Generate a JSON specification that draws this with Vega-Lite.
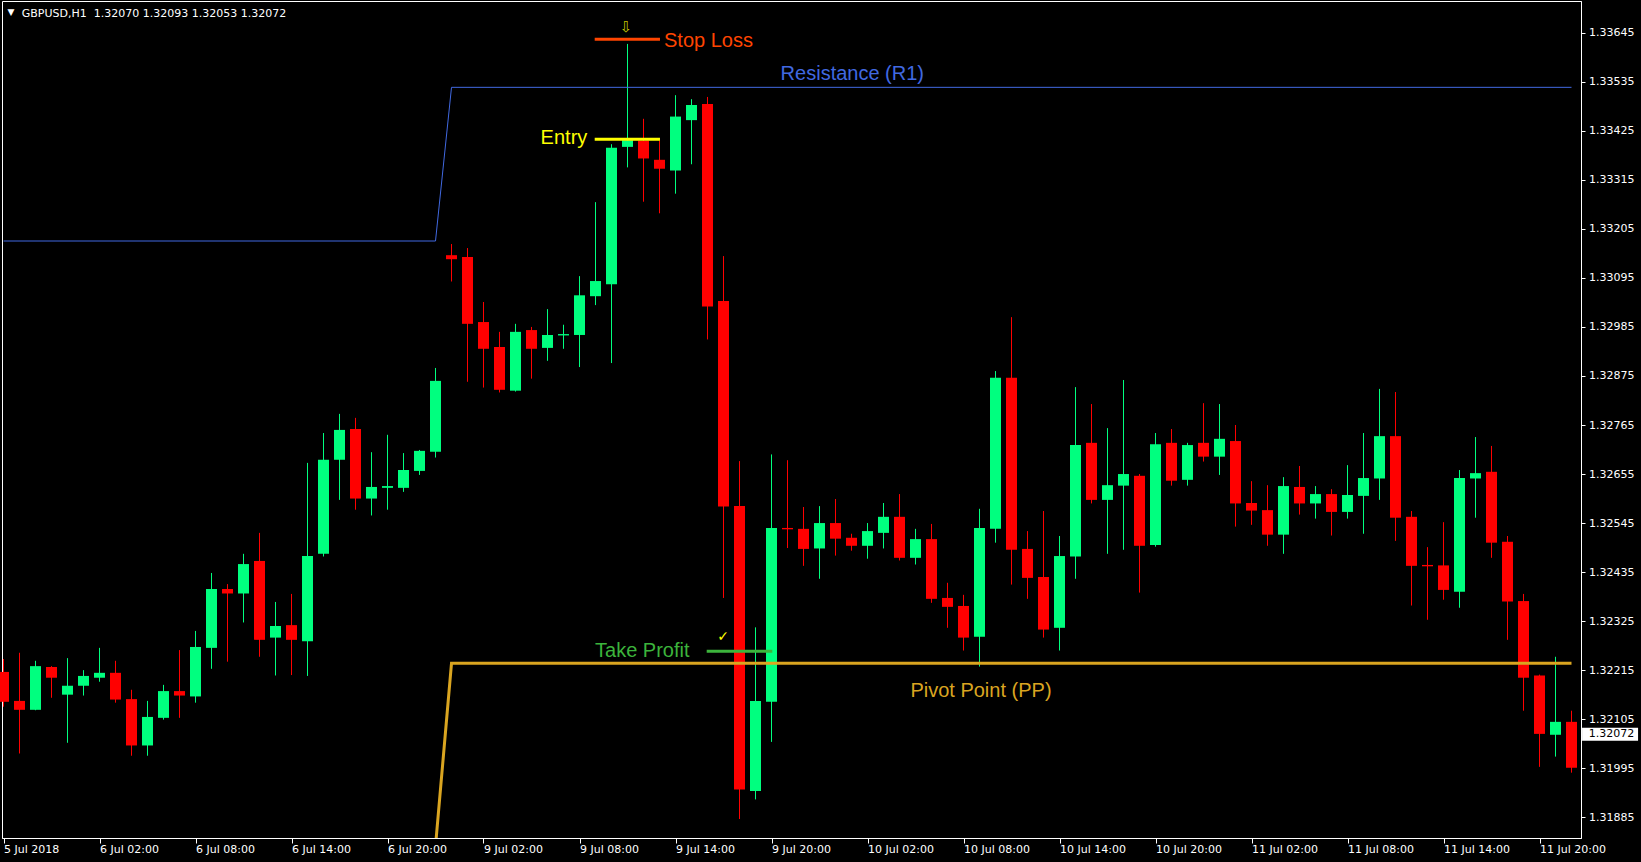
{
  "$schema": "https://vega.github.io/schema/vega-lite/v6.json",
  "width": 1579,
  "height": 837,
  "autosize": {"type": "none"},
  "padding": {"left": 2, "top": 1, "right": 60, "bottom": 24},
  "background": "#000000",
  "config": {
    "view": {"stroke": "#FFFFFF", "strokeWidth": 1, "fill": "#000000"},
    "scale": {"continuousPadding": 0},
    "axis": {"grid": false, "domainColor": "#FFFFFF", "tickColor": "#FFFFFF", "labelColor": "#FFFFFF", "labelFont": "DejaVu Sans", "labelFontSize": 11}
  },
  "datasets": {
    "candles": [
      {"i":0,"o":1.32211,"h":1.32240,"l":1.32133,"c":1.32144},
      {"i":1,"o":1.32146,"h":1.32254,"l":1.32028,"c":1.32126},
      {"i":2,"o":1.32126,"h":1.32236,"l":1.32125,"c":1.32224},
      {"i":3,"o":1.32222,"h":1.32224,"l":1.32153,"c":1.32198},
      {"i":4,"o":1.32160,"h":1.32242,"l":1.32052,"c":1.32180},
      {"i":5,"o":1.32180,"h":1.32215,"l":1.32158,"c":1.32202},
      {"i":6,"o":1.32198,"h":1.32265,"l":1.32189,"c":1.32209},
      {"i":7,"o":1.32209,"h":1.32236,"l":1.32142,"c":1.32149},
      {"i":8,"o":1.32150,"h":1.32171,"l":1.32023,"c":1.32046},
      {"i":9,"o":1.32046,"h":1.32146,"l":1.32023,"c":1.32110},
      {"i":10,"o":1.32108,"h":1.32182,"l":1.32104,"c":1.32168},
      {"i":11,"o":1.32168,"h":1.32260,"l":1.32108,"c":1.32158},
      {"i":12,"o":1.32156,"h":1.32303,"l":1.32142,"c":1.32267},
      {"i":13,"o":1.32265,"h":1.32433,"l":1.32218,"c":1.32397},
      {"i":14,"o":1.32397,"h":1.32408,"l":1.32234,"c":1.32387},
      {"i":15,"o":1.32387,"h":1.32476,"l":1.32322,"c":1.32453},
      {"i":16,"o":1.32460,"h":1.32523,"l":1.32245,"c":1.32283},
      {"i":17,"o":1.32288,"h":1.32368,"l":1.32203,"c":1.32314},
      {"i":18,"o":1.32316,"h":1.32386,"l":1.32204,"c":1.32283},
      {"i":19,"o":1.32280,"h":1.32680,"l":1.32202,"c":1.32471},
      {"i":20,"o":1.32476,"h":1.32747,"l":1.32470,"c":1.32687},
      {"i":21,"o":1.32687,"h":1.32790,"l":1.32597,"c":1.32754},
      {"i":22,"o":1.32756,"h":1.32781,"l":1.32575,"c":1.32600},
      {"i":23,"o":1.32600,"h":1.32704,"l":1.32562,"c":1.32626},
      {"i":24,"o":1.32624,"h":1.32743,"l":1.32575,"c":1.32628},
      {"i":25,"o":1.32624,"h":1.32702,"l":1.32615,"c":1.32664},
      {"i":26,"o":1.32662,"h":1.32709,"l":1.32653,"c":1.32707},
      {"i":27,"o":1.32705,"h":1.32893,"l":1.32692,"c":1.32864},
      {"i":28,"o":1.33146,"h":1.33171,"l":1.33087,"c":1.33137},
      {"i":29,"o":1.33142,"h":1.33162,"l":1.32862,"c":1.32992},
      {"i":30,"o":1.32996,"h":1.33041,"l":1.32849,"c":1.32936},
      {"i":31,"o":1.32940,"h":1.32974,"l":1.32838,"c":1.32844},
      {"i":32,"o":1.32842,"h":1.32992,"l":1.32840,"c":1.32974},
      {"i":33,"o":1.32978,"h":1.32985,"l":1.32869,"c":1.32936},
      {"i":34,"o":1.32938,"h":1.33025,"l":1.32909,"c":1.32967},
      {"i":35,"o":1.32966,"h":1.32990,"l":1.32936,"c":1.32969},
      {"i":36,"o":1.32967,"h":1.33099,"l":1.32895,"c":1.33056},
      {"i":37,"o":1.33054,"h":1.33265,"l":1.33034,"c":1.33088},
      {"i":38,"o":1.33081,"h":1.33395,"l":1.32904,"c":1.33387},
      {"i":39,"o":1.33389,"h":1.33620,"l":1.33343,"c":1.33404},
      {"i":40,"o":1.33403,"h":1.33452,"l":1.33266,"c":1.33363},
      {"i":41,"o":1.33360,"h":1.33403,"l":1.33240,"c":1.33340},
      {"i":42,"o":1.33336,"h":1.33505,"l":1.33284,"c":1.33457},
      {"i":43,"o":1.33449,"h":1.33496,"l":1.33350,"c":1.33483},
      {"i":44,"o":1.33485,"h":1.33501,"l":1.32957,"c":1.33031},
      {"i":45,"o":1.33043,"h":1.33144,"l":1.32377,"c":1.32582},
      {"i":46,"o":1.32583,"h":1.32684,"l":1.31881,"c":1.31947},
      {"i":47,"o":1.31944,"h":1.32311,"l":1.31925,"c":1.32146},
      {"i":48,"o":1.32144,"h":1.32699,"l":1.32054,"c":1.32534},
      {"i":49,"o":1.32534,"h":1.32686,"l":1.32489,"c":1.32531},
      {"i":50,"o":1.32532,"h":1.32581,"l":1.32449,"c":1.32487},
      {"i":51,"o":1.32488,"h":1.32583,"l":1.32420,"c":1.32545},
      {"i":52,"o":1.32545,"h":1.32599,"l":1.32472,"c":1.32510},
      {"i":53,"o":1.32512,"h":1.32521,"l":1.32483,"c":1.32494},
      {"i":54,"o":1.32494,"h":1.32545,"l":1.32465,"c":1.32527},
      {"i":55,"o":1.32523,"h":1.32590,"l":1.32488,"c":1.32559},
      {"i":56,"o":1.32559,"h":1.32610,"l":1.32461,"c":1.32467},
      {"i":57,"o":1.32467,"h":1.32532,"l":1.32452,"c":1.32509},
      {"i":58,"o":1.32509,"h":1.32543,"l":1.32366,"c":1.32375},
      {"i":59,"o":1.32377,"h":1.32411,"l":1.32310,"c":1.32357},
      {"i":60,"o":1.32359,"h":1.32384,"l":1.32259,"c":1.32288},
      {"i":61,"o":1.32290,"h":1.32577,"l":1.32223,"c":1.32534},
      {"i":62,"o":1.32532,"h":1.32886,"l":1.32501,"c":1.32871},
      {"i":63,"o":1.32871,"h":1.33007,"l":1.32407,"c":1.32485},
      {"i":64,"o":1.32487,"h":1.32527,"l":1.32375,"c":1.32422},
      {"i":65,"o":1.32424,"h":1.32572,"l":1.32288,"c":1.32306},
      {"i":66,"o":1.32310,"h":1.32516,"l":1.32259,"c":1.32471},
      {"i":67,"o":1.32470,"h":1.32850,"l":1.32420,"c":1.32720},
      {"i":68,"o":1.32725,"h":1.32812,"l":1.32589,"c":1.32597},
      {"i":69,"o":1.32597,"h":1.32758,"l":1.32476,"c":1.32630},
      {"i":70,"o":1.32629,"h":1.32866,"l":1.32485,"c":1.32655},
      {"i":71,"o":1.32651,"h":1.32655,"l":1.32389,"c":1.32494},
      {"i":72,"o":1.32496,"h":1.32747,"l":1.32492,"c":1.32722},
      {"i":73,"o":1.32725,"h":1.32756,"l":1.32629,"c":1.32640},
      {"i":74,"o":1.32642,"h":1.32725,"l":1.32629,"c":1.32720},
      {"i":75,"o":1.32725,"h":1.32814,"l":1.32683,"c":1.32694},
      {"i":76,"o":1.32694,"h":1.32812,"l":1.32653,"c":1.32734},
      {"i":77,"o":1.32729,"h":1.32765,"l":1.32537,"c":1.32589},
      {"i":78,"o":1.32590,"h":1.32639,"l":1.32541,"c":1.32573},
      {"i":79,"o":1.32574,"h":1.32630,"l":1.32494,"c":1.32519},
      {"i":80,"o":1.32519,"h":1.32648,"l":1.32476,"c":1.32628},
      {"i":81,"o":1.32626,"h":1.32673,"l":1.32564,"c":1.32589},
      {"i":82,"o":1.32589,"h":1.32628,"l":1.32555,"c":1.32610},
      {"i":83,"o":1.32610,"h":1.32621,"l":1.32517,"c":1.32570},
      {"i":84,"o":1.32570,"h":1.32675,"l":1.32555,"c":1.32608},
      {"i":85,"o":1.32606,"h":1.32747,"l":1.32521,"c":1.32646},
      {"i":86,"o":1.32645,"h":1.32846,"l":1.32597,"c":1.32740},
      {"i":87,"o":1.32740,"h":1.32839,"l":1.32505,"c":1.32557},
      {"i":88,"o":1.32559,"h":1.32572,"l":1.32360,"c":1.32449},
      {"i":89,"o":1.32451,"h":1.32491,"l":1.32328,"c":1.32448},
      {"i":90,"o":1.32450,"h":1.32547,"l":1.32373,"c":1.32395},
      {"i":91,"o":1.32391,"h":1.32664,"l":1.32355,"c":1.32646},
      {"i":92,"o":1.32645,"h":1.32738,"l":1.32557,"c":1.32657},
      {"i":93,"o":1.32660,"h":1.32718,"l":1.32467,"c":1.32501},
      {"i":94,"o":1.32503,"h":1.32516,"l":1.32283,"c":1.32369},
      {"i":95,"o":1.32370,"h":1.32386,"l":1.32124,"c":1.32198},
      {"i":96,"o":1.32203,"h":1.32205,"l":1.31998,"c":1.32072},
      {"i":97,"o":1.32070,"h":1.32245,"l":1.32021,"c":1.32099},
      {"i":98,"o":1.32099,"h":1.32124,"l":1.31985,"c":1.31996}
    ],
    "labels": [
      {"name":"Stop Loss","i":41.28,"p":1.336137},
      {"name":"Resistance (R1)","i":48.57,"p":1.33539},
      {"name":"Entry","i":33.57,"p":1.333954},
      {"name":"Take Profit","i":36.97,"p":1.322445},
      {"name":"Pivot Point (PP)","i":56.68,"p":1.321548}
    ],
    "levels": [
      {"name":"Stop Loss","i":36.95,"i2":41.03,"p":1.336303},
      {"name":"Entry","i":36.95,"i2":41.03,"p":1.33406},
      {"name":"Take Profit","i":43.95,"i2":48.05,"p":1.322575}
    ]
  },
  "layer": [
    {
      "data": {"name": "candles"},
      "mark": {"type": "rule", "strokeWidth": 1},
      "encoding": {
        "x": {"field": "i", "type": "quantitative", "title": null,
          "scale": {"domain": [-0.09375, 98.59375], "nice": false, "zero": false, "padding": 0},
          "axis": {"values": [0,6,12,18,24,30,36,42,48,54,60,66,72,78,84,90,96],
            "labelExpr": "['5 Jul 2018','6 Jul 02:00','6 Jul 08:00','6 Jul 14:00','6 Jul 20:00','9 Jul 02:00','9 Jul 08:00','9 Jul 14:00','9 Jul 20:00','10 Jul 02:00','10 Jul 08:00','10 Jul 14:00','10 Jul 20:00','11 Jul 02:00','11 Jul 08:00','11 Jul 14:00','11 Jul 20:00'][round(datum.value/6)]",
            "labelAlign": "left", "labelBaseline": "top", "tickSize": 5, "labelPadding": 0,
            "labelOverlap": false, "labelFlush": false, "labelBound": false, "title": null}},
        "y": {"field": "l", "type": "quantitative", "title": null,
          "scale": {"domain": [1.318384, 1.337163], "nice": false, "zero": false, "padding": 0},
          "axis": {"orient": "right", "values": [1.31885,1.31995,1.32105,1.32215,1.32325,1.32435,1.32545,1.32655,1.32765,1.32875,1.32985,1.33095,1.33205,1.33315,1.33425,1.33535,1.33645],
            "format": ".5f", "tickSize": 4, "labelPadding": 3.5, "labelBaseline": "middle", "labelOverlap": false, "title": null}},
        "y2": {"field": "h"},
        "color": {"condition": {"test": "datum.c >= datum.o", "value": "#00FF7F"}, "value": "#FF0000"}
      }
    },
    {
      "data": {"name": "candles"},
      "mark": {"type": "bar", "size": 11},
      "encoding": {
        "x": {"field": "i", "type": "quantitative", "title": null},
        "y": {"field": "o", "type": "quantitative", "title": null},
        "y2": {"field": "c"},
        "color": {"condition": {"test": "datum.c >= datum.o", "value": "#00FF7F"}, "value": "#FF0000"}
      }
    },
    {
      "data": {"values": [{"i":0,"v":1.331778},{"i":27,"v":1.331778},{"i":28,"v":1.335226},{"i":98,"v":1.335226}]},
      "mark": {"type": "line", "color": "#4169E1", "strokeWidth": 1},
      "encoding": {
        "x": {"field": "i", "type": "quantitative", "title": null},
        "y": {"field": "v", "type": "quantitative", "title": null}
      }
    },
    {
      "data": {"values": [{"i":0,"v":1.3182},{"i":27,"v":1.3182},{"i":28,"v":1.322304},{"i":98,"v":1.322304}]},
      "mark": {"type": "line", "color": "#DAA520", "strokeWidth": 3, "clip": true},
      "encoding": {
        "x": {"field": "i", "type": "quantitative", "title": null},
        "y": {"field": "v", "type": "quantitative", "title": null}
      }
    },
    {
      "data": {"name": "levels"},
      "mark": {"type": "rule", "strokeWidth": 3, "strokeCap": "butt"},
      "encoding": {
        "x": {"field": "i", "type": "quantitative", "title": null},
        "x2": {"field": "i2"},
        "y": {"field": "p", "type": "quantitative", "title": null},
        "color": {"field": "name", "type": "nominal", "legend": null,
          "scale": {"domain": ["Stop Loss","Resistance (R1)","Entry","Take Profit","Pivot Point (PP)"], "range": ["#FF4500","#4169E1","#FFFF00","#3CB43C","#DAA520"]}}
      }
    },
    {
      "data": {"name": "labels"},
      "mark": {"type": "text", "font": "Liberation Sans", "fontSize": 20, "align": "left", "baseline": "alphabetic"},
      "encoding": {
        "x": {"field": "i", "type": "quantitative", "title": null},
        "y": {"field": "p", "type": "quantitative", "title": null},
        "text": {"field": "name"},
        "color": {"field": "name", "type": "nominal", "legend": null,
          "scale": {"domain": ["Stop Loss","Resistance (R1)","Entry","Take Profit","Pivot Point (PP)"], "range": ["#FF4500","#4169E1","#FFFF00","#3CB43C","#DAA520"]}}
      }
    },
    {
      "data": {"values": [{"i":38.91,"p":1.336586,"t":"⇩"}]},
      "mark": {"type": "text", "font": "DejaVu Sans", "fontSize": 15, "align": "center", "baseline": "middle", "color": "#C8C800"},
      "encoding": {
        "x": {"field": "i", "type": "quantitative", "title": null},
        "y": {"field": "p", "type": "quantitative", "title": null},
        "text": {"field": "t"}
      }
    },
    {
      "data": {"values": [{"i":44.97,"p":1.322901,"t":"✓"}]},
      "mark": {"type": "text", "font": "DejaVu Sans", "fontSize": 14, "align": "center", "baseline": "middle", "color": "#FFFF00"},
      "encoding": {
        "x": {"field": "i", "type": "quantitative", "title": null},
        "y": {"field": "p", "type": "quantitative", "title": null},
        "text": {"field": "t"}
      }
    },
    {
      "data": {"values": [{"i":1.14,"p":1.336811,"t":"GBPUSD,H1\u00a0\u00a01.32070 1.32093 1.32053 1.32072"}]},
      "mark": {"type": "text", "font": "DejaVu Sans", "fontSize": 11, "align": "left", "baseline": "alphabetic", "color": "#FFFFFF"},
      "encoding": {
        "x": {"field": "i", "type": "quantitative", "title": null},
        "y": {"field": "p", "type": "quantitative", "title": null},
        "text": {"field": "t"}
      }
    },
    {
      "data": {"values": [{"i":0.47,"p":1.336905,"t":"▼"}]},
      "mark": {"type": "text", "font": "DejaVu Sans", "fontSize": 9, "align": "center", "baseline": "middle", "color": "#FFFFFF"},
      "encoding": {
        "x": {"field": "i", "type": "quantitative", "title": null},
        "y": {"field": "p", "type": "quantitative", "title": null},
        "text": {"field": "t"}
      }
    },
    {
      "data": {"values": [{"i":98.66,"i2":102.16,"p":1.320859,"p2":1.320567}]},
      "mark": {"type": "rect", "color": "#FFFFFF"},
      "encoding": {
        "x": {"field": "i", "type": "quantitative", "title": null},
        "x2": {"field": "i2"},
        "y": {"field": "p", "type": "quantitative", "title": null},
        "y2": {"field": "p2"}
      }
    },
    {
      "data": {"values": [{"i":99.08,"p":1.32072,"t":"1.32072"}]},
      "mark": {"type": "text", "font": "DejaVu Sans", "fontSize": 11, "align": "left", "baseline": "middle", "color": "#000000"},
      "encoding": {
        "x": {"field": "i", "type": "quantitative", "title": null},
        "y": {"field": "p", "type": "quantitative", "title": null},
        "text": {"field": "t"}
      }
    }
  ]
}
